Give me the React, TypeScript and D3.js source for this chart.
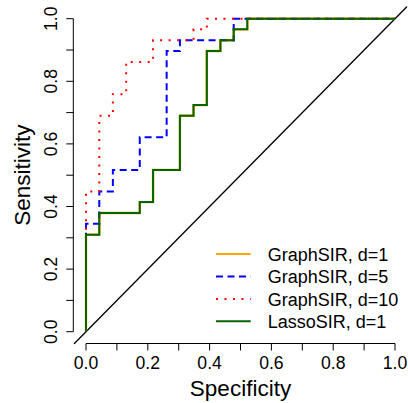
import React from 'react';
import * as d3 from 'd3';

const W = 408;
const H = 403;

// Legend / series
const seriesNames = ['GraphSIR, d=1', 'GraphSIR, d=5', 'GraphSIR, d=10', 'LassoSIR, d=1'];
const seriesColors = ['#FFA500', '#0000FF', '#FF0000', '#006400'];
const seriesDash = ['none', '7,4.5', '2,6.5', 'none'];
const seriesWidth = [2.4, 2, 2, 2];

// Step-curve corners (step-before: rise first, then move right)
const graphD1Spec = [0, 0.043, 0.174, 0.217, 0.304, 0.348, 0.391, 0.435, 0.478, 0.522, 1];
const graphD1Sens = [0, 0.310, 0.379, 0.414, 0.517, 0.690, 0.724, 0.897, 0.931, 0.966, 1];

const graphD5Spec = [0, 0.043, 0.087, 0.174, 0.261, 0.304, 0.478, 1];
const graphD5Sens = [0, 0.345, 0.448, 0.517, 0.621, 0.897, 0.931, 1];

const graphD10Spec = [0, 0.043, 0.087, 0.130, 0.217, 0.348, 0.391, 1];
const graphD10Sens = [0, 0.448, 0.690, 0.759, 0.862, 0.931, 0.966, 1];

const lassoD1Spec = [0, 0.043, 0.174, 0.217, 0.304, 0.348, 0.391, 0.435, 0.478, 0.522, 1];
const lassoD1Sens = [0, 0.310, 0.379, 0.414, 0.517, 0.690, 0.724, 0.897, 0.931, 0.966, 1];

const tickValues = [0, 0.1, 0.2, 0.3, 0.4, 0.5, 0.6, 0.7, 0.8, 0.9, 1];
const labelValues = [0, 0.2, 0.4, 0.6, 0.8, 1];
const labelTexts = ['0.0', '0.2', '0.4', '0.6', '0.8', '1.0'];

const FONT = '"Liberation Sans", Arial, Helvetica, sans-serif';

export default function App() {
  const x = d3.scaleLinear().domain([0, 1]).range([86, 395]);
  const y = d3.scaleLinear().domain([0, 1]).range([331.7, 18.7]);
  const [ux0, ux1] = [x(-0.04), x(1.04)];
  const [uy0, uy1] = [y(1.04), y(-0.04)];

  const specs = [graphD1Spec, graphD5Spec, graphD10Spec, lassoD1Spec];
  const sens = [graphD1Sens, graphD5Sens, graphD10Sens, lassoD1Sens];

  const line = d3
    .line<[number, number]>()
    .x((d) => x(d[0]))
    .y((d) => y(d[1]))
    .curve(d3.curveStepBefore);

  const diag = d3.line<[number, number]>().x((d) => x(d[0])).y((d) => y(d[1]));

  const legendY = [254, 276.5, 299, 321.3];

  return (
    <svg
      width={W}
      height={H}
      style={{ position: 'absolute', left: 0, top: 0, background: '#fff' }}
      fontFamily={FONT}
    >
      <defs>
        <clipPath id="plotclip">
          <rect x={ux0} y={uy0} width={ux1 - ux0} height={uy1 - uy0} />
        </clipPath>
      </defs>
      <rect x={0} y={0} width={W} height={H} fill="#fff" />

      {/* diagonal reference line */}
      <path
        d={diag([[-0.04, -0.04], [1.04, 1.04]]) || ''}
        stroke="#000"
        strokeWidth={1.3}
        fill="none"
        clipPath="url(#plotclip)"
      />

      {/* ROC step curves */}
      <g clipPath="url(#plotclip)">
        {specs.map((sp, i) => {
          const pts = sp.map((v, j) => [v, sens[i][j]] as [number, number]);
          return (
            <path
              key={i}
              d={line(pts) || ''}
              fill="none"
              stroke={seriesColors[i]}
              strokeWidth={seriesWidth[i]}
              strokeDasharray={seriesDash[i]}
              strokeLinecap="butt"
            />
          );
        })}
      </g>

      {/* Y axis */}
      <line x1={73.3} x2={73.3} y1={y(0)} y2={y(1)} stroke="#000" strokeWidth={1} />
      {tickValues.map((t) => (
        <line key={'yt' + t} x1={66.3} x2={73.3} y1={y(t)} y2={y(t)} stroke="#000" strokeWidth={1} />
      ))}
      {labelValues.map((t, i) => (
        <text
          key={'yl' + t}
          transform={`translate(57.3,${y(t)}) rotate(-90)`}
          textAnchor="middle"
          fontSize={17.6}
          fill="#000"
        >
          {labelTexts[i]}
        </text>
      ))}

      {/* X axis */}
      <line x1={x(0)} x2={x(1)} y1={343.5} y2={343.5} stroke="#000" strokeWidth={1} />
      {tickValues.map((t) => (
        <line key={'xt' + t} x1={x(t)} x2={x(t)} y1={343.5} y2={350.5} stroke="#000" strokeWidth={1} />
      ))}
      {labelValues.map((t, i) => (
        <text key={'xl' + t} x={x(t)} y={369.3} textAnchor="middle" fontSize={17.6} fill="#000">
          {labelTexts[i]}
        </text>
      ))}

      {/* Axis titles */}
      <text x={(ux0 + ux1) / 2} y={396} textAnchor="middle" fontSize={22.5} fill="#000">
        Specificity
      </text>
      <text
        transform={`translate(29.5,${(uy0 + uy1) / 2}) rotate(-90)`}
        textAnchor="middle"
        fontSize={22.5}
        fill="#000"
      >
        Sensitivity
      </text>

      {/* Legend */}
      {seriesNames.map((name, i) => (
        <g key={name}>
          <line
            x1={216}
            x2={250.7}
            y1={legendY[i]}
            y2={legendY[i]}
            stroke={seriesColors[i]}
            strokeWidth={2}
            strokeDasharray={seriesDash[i]}
          />
          <text x={267.7} y={legendY[i] + 6.5} fontSize={18} fill="#000">
            {name}
          </text>
        </g>
      ))}
    </svg>
  );
}
